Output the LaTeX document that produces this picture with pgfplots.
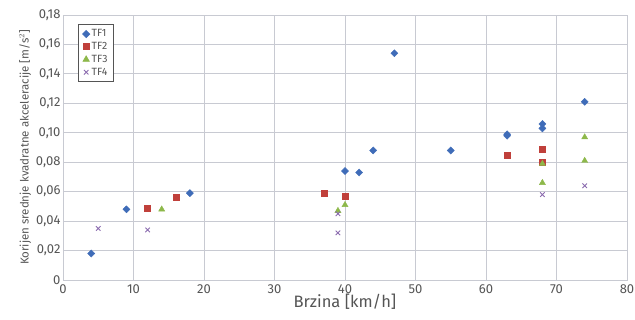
\documentclass[border=0pt]{standalone}
\usepackage{pgfplots}
\pgfplotsset{compat=1.18}
\usepackage{fontspec}
\setmainfont{Fira Sans}
\definecolor{tfblue}{HTML}{3F6CB8}
\definecolor{tfred}{HTML}{C0403B}
\definecolor{tfgreen}{HTML}{8DB84A}
\definecolor{tfpurple}{HTML}{8A6AAE}
\definecolor{txt}{HTML}{555555}
\definecolor{gridc}{HTML}{C8CAD2}
\begin{document}
\begin{tikzpicture}
\useasboundingbox (-63pt,-40pt) rectangle (572pt,280pt);
\begin{axis}[
  at={(0,0)}, anchor=south west,
  scale only axis, width=564pt, height=265pt,
  xmin=0, xmax=80, ymin=0, ymax=0.18,
  xtick={0,10,...,80},
  ytick={0,0.02,0.04,0.06,0.08,0.10,0.12,0.14,0.16,0.18},
  yticklabels={0,{0,02},{0,04},{0,06},{0,08},{0,10},{0,12},{0,14},{0,16},{0,18}},
  grid=major,
  major grid style={gridc, line width=0.8pt},
  axis line style={gridc, line width=0.8pt},
  major tick length=0pt,
  tick label style={font=\fontsize{13}{14}\selectfont, text=txt},
  xticklabel style={yshift=-1pt},
  yticklabel style={xshift=1pt},
  /pgf/number format/assume math mode=true,
  xlabel={Brzina [km/h]},
  xlabel style={font=\fontsize{16.5}{18}\selectfont, text=txt, yshift=6pt},
  ylabel={Korijen srednje kvadratne akceleracije [m/s$^2$]},
  ylabel style={font=\fontsize{11.5}{13}\selectfont, text=txt, yshift=-2pt},
  legend style={at={(0.027,0.965)}, anchor=north west, draw=txt, line width=0.8pt,
    font=\fontsize{10.5}{12}\selectfont, text=txt, row sep=0pt,
    inner xsep=4pt, inner ysep=3pt},
  legend image code/.code={\draw[mark repeat=2,mark phase=2] plot coordinates {(0cm,0cm) (0.15cm,0cm) (0.3cm,0cm)};},
  legend cell align=left,
]
\addplot[only marks, mark=square*, mark options={rotate=45}, mark size=2.5pt, color=tfblue] coordinates {
 (4,0.018) (9,0.048) (18,0.059) (40,0.074) (42,0.073) (44,0.088) (47,0.154)
 (55,0.088) (63,0.098) (63,0.099) (68,0.103) (68,0.106) (74,0.121)};
\addlegendentry{TF1}
\addplot[only marks, mark=square*, mark size=3pt, color=tfred] coordinates {
 (12,0.049) (16,0.056) (37,0.059) (40,0.057) (63,0.085) (68,0.089) (68,0.080)};
\addlegendentry{TF2}
\addplot[only marks, mark=triangle*, mark size=3.5pt, color=tfgreen] coordinates {
 (14,0.048) (39,0.047) (40,0.051) (68,0.079) (68,0.066) (74,0.097) (74,0.081)};
\addlegendentry{TF3}
\addplot[only marks, mark=x, mark size=3.2pt, line width=0.9pt, color=tfpurple] coordinates {
 (5,0.035) (12,0.034) (39,0.045) (39,0.032) (68,0.058) (74,0.064)};
\addlegendentry{TF4}
\end{axis}
\end{tikzpicture}
\end{document}
